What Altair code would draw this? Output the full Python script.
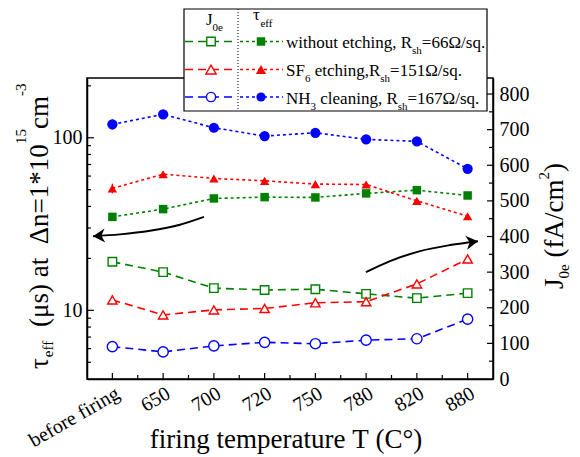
import json
import altair as alt
import pandas as pd

# ---------------- data ----------------
categories = ["before firing", "650", "700", "720", "750", "780", "820", "880"]
series = ["without etching", "SF6 etching", "NH3 cleaning"]
colors = ["#008000", "#FF0000", "#0000FF"]
shapes = ["square", "triangle-up", "circle"]
sizes = [72, 105, 85]

tau_without = [34.8, 38.6, 44.5, 45.3, 45.1, 47.6, 49.7, 46.3]
tau_sf6 = [50.9, 61.5, 58.1, 56.3, 53.9, 53.6, 43.1, 35.1]
tau_nh3 = [119.6, 136.7, 114.3, 102.3, 106.9, 97.9, 95.3, 66.1]

j0e_without = [329, 300, 255, 250, 252, 239, 227, 241]
j0e_sf6 = [222, 180, 194, 198, 214, 217, 267, 337]
j0e_nh3 = [91, 76, 93, 103, 99, 109, 113, 168]

tau_err_first = [1.5, 3.3, 8.0]
j0e_err_first = [12, 12, 5]

tau_ticks_major = [10, 100]
tau_ticks_minor = [5, 6, 7, 8, 9, 20, 30, 40, 50, 60, 70, 80, 90, 200]
j_ticks_major = [100, 200, 300, 400, 500, 600, 700, 800]
j_ticks_minor = [50, 150, 250, 350, 450, 550, 650, 750]
x_ticks_major = [0, 1, 2, 3, 4, 5, 6, 7]
x_ticks_minor = [0.5, 1.5, 2.5, 3.5, 4.5, 5.5, 6.5]

arrow_left_x = [1.805, 1.332, 0.741, 0.150, -0.382]
arrow_left_y = [455, 433, 416, 406, 401]
arrow_right_x = [4.997, 5.471, 6.062, 6.653, 7.204]
arrow_right_y = [300, 331, 359, 376, 387]

# ---------------- layout ----------------
FONT = "Liberation Serif"
OX, OY = 87, 78
W, H = 406, 301
NBSP = "\u00a0"

TW = {' ': 250, '(': 333, ')': 333, '*': 500, ',': 250, '-': 333, '.': 250, '/': 278,
      '=': 564, 'A': 722, 'C': 667, 'F': 556, 'H': 722, 'J': 389, 'N': 722, 'R': 667,
      'S': 556, 'T': 611, 'a': 444, 'b': 500, 'c': 444, 'e': 444, 'f': 333, 'g': 500,
      'h': 500, 'i': 278, 'l': 278, 'm': 778, 'n': 500, 'o': 500, 'p': 500, 'q': 500,
      'r': 333, 's': 389, 't': 278, 'u': 500, 'w': 722, 'Ω': 768, 'μ': 576, 'Δ': 612,
      'τ': 439, '°': 400}


def tw(s, size):
    return sum(TW.get(c, 500) for c in s) * size / 1000.0


one = pd.DataFrame({"a": [0]})


def txt(s, x, y, size, angle=0, align="left"):
    kw = dict(text=s.replace(" ", NBSP), fontSize=size, font=FONT, align=align,
              baseline="alphabetic", color="black")
    if angle:
        kw["angle"] = angle
    return alt.Chart(one).mark_text(**kw).encode(x=alt.value(x - OX), y=alt.value(y - OY))


def rich_h(pieces, x0, y0):
    out = []
    x = x0
    for s, size, dy in pieces:
        body = s.lstrip(" ")
        x += tw(s[:len(s) - len(body)], size)
        out.append(txt(body, x, y0 + dy, size))
        x += tw(body, size)
    return out


def rich_v(pieces, x0, y0):
    out = []
    y = y0
    for s, size, dx in pieces:
        body = s.lstrip(" ")
        y -= tw(s[:len(s) - len(body)], size)
        out.append(txt(body, x0 + dx, y, size, angle=270))
        y -= tw(body, size)
    return out


rows = []
for s, tv, jv in zip(series, [tau_without, tau_sf6, tau_nh3], [j0e_without, j0e_sf6, j0e_nh3]):
    for i, (t, j) in enumerate(zip(tv, jv)):
        rows.append({"x": i, "series": s, "tau": t, "j": j})
df = pd.DataFrame(rows)

err_df = pd.DataFrame({
    "x": [0, 0, 0],
    "series": series,
    "tau_lo": [v[0] - e for v, e in zip([tau_without, tau_sf6, tau_nh3], tau_err_first)],
    "tau_hi": [v[0] + e for v, e in zip([tau_without, tau_sf6, tau_nh3], tau_err_first)],
    "j_lo": [v[0] - e for v, e in zip([j0e_without, j0e_sf6, j0e_nh3], j0e_err_first)],
    "j_hi": [v[0] + e for v, e in zip([j0e_without, j0e_sf6, j0e_nh3], j0e_err_first)],
})

x_axis = alt.Axis(values=x_ticks_major,
                  labelExpr=json.dumps(categories) + "[round(datum.value)]",
                  labelAngle=-30, labelAlign="right", labelBaseline="top",
                  labelFontSize=20, labelPadding=4, ticks=False, grid=False, title=None)
x_enc = alt.X("x:Q", scale=alt.Scale(domain=[-0.5, 7.5], nice=False, zero=False), axis=x_axis)

tau_scale = alt.Scale(type="log", domain=[4, 222], nice=False)
left_axis = alt.Axis(orient="left", values=tau_ticks_major, format="d", ticks=False, grid=False,
                     labelFontSize=20, labelPadding=5, title=None)
j_scale = alt.Scale(domain=[0, 845], nice=False, zero=False)
right_axis = alt.Axis(orient="right", values=[0] + j_ticks_major, ticks=False, grid=False,
                      labelFontSize=20, labelPadding=6, title=None)

color_enc = alt.Color("series:N", scale=alt.Scale(domain=series, range=colors), legend=None)
shape_enc = alt.Shape("series:N", scale=alt.Scale(domain=series, range=shapes), legend=None)
size_enc = alt.Size("series:N", scale=alt.Scale(domain=series, range=sizes), legend=None)

# ---- tau (left, log) ----
y_tau = alt.Y("tau:Q", scale=tau_scale, axis=left_axis)
tau_tick_major = alt.Chart(pd.DataFrame({"tau": tau_ticks_major})).mark_rule(color="black", strokeWidth=1.2).encode(
    y=y_tau, x=alt.value(0), x2=alt.value(7))
tau_tick_minor = alt.Chart(pd.DataFrame({"tau": tau_ticks_minor})).mark_rule(color="black", strokeWidth=1.2).encode(
    y=y_tau, x=alt.value(0), x2=alt.value(4))
xt_major = alt.Chart(pd.DataFrame({"x": x_ticks_major})).mark_rule(color="black", strokeWidth=1.2).encode(
    x=x_enc, y=alt.value(H), y2=alt.value(H - 6))
xt_minor = alt.Chart(pd.DataFrame({"x": x_ticks_minor})).mark_rule(color="black", strokeWidth=1.2).encode(
    x=x_enc, y=alt.value(H), y2=alt.value(H - 4))
tau_err = alt.Chart(err_df).mark_rule(strokeWidth=1.3).encode(
    x=x_enc, y=alt.Y("tau_lo:Q", scale=tau_scale, axis=left_axis), y2="tau_hi:Q", color=color_enc)
tau_line = alt.Chart(df).mark_line(strokeDash=[3, 3], strokeWidth=1.6).encode(
    x=x_enc, y=y_tau, color=color_enc, detail="series:N")
tau_pts = alt.Chart(df).mark_point(filled=True, opacity=1).encode(
    x=x_enc, y=y_tau, color=color_enc, shape=shape_enc, size=size_enc)
tau_group = alt.layer(tau_tick_major, tau_tick_minor, xt_major, xt_minor, tau_err, tau_line, tau_pts)

# ---- J0e (right, linear) ----
y_j = alt.Y("j:Q", scale=j_scale, axis=right_axis)
j_tick_major = alt.Chart(pd.DataFrame({"j": j_ticks_major})).mark_rule(color="black", strokeWidth=1.2).encode(
    y=y_j, x=alt.value(W), x2=alt.value(W - 6))
j_tick_minor = alt.Chart(pd.DataFrame({"j": j_ticks_minor})).mark_rule(color="black", strokeWidth=1.2).encode(
    y=y_j, x=alt.value(W), x2=alt.value(W - 4))
j_err = alt.Chart(err_df).mark_rule(strokeWidth=1.3).encode(
    x=x_enc, y=alt.Y("j_lo:Q", scale=j_scale, axis=right_axis), y2="j_hi:Q", color=color_enc)
j_line = alt.Chart(df).mark_line(strokeDash=[8, 5], strokeWidth=1.6).encode(
    x=x_enc, y=y_j, color=color_enc, detail="series:N")
j_pts = alt.Chart(df).mark_point(filled=False, fill="white", fillOpacity=1, strokeWidth=1.4, opacity=1).encode(
    x=x_enc, y=y_j, color=color_enc, shape=shape_enc, size=size_enc)

arrL = pd.DataFrame({"x": arrow_left_x, "j": arrow_left_y})
arrR = pd.DataFrame({"x": arrow_right_x, "j": arrow_right_y})
arrL_line = alt.Chart(arrL).mark_line(interpolate="monotone", color="black", strokeWidth=2).encode(x=x_enc, y=y_j)
arrR_line = alt.Chart(arrR).mark_line(interpolate="monotone", color="black", strokeWidth=2).encode(x=x_enc, y=y_j)
arrL_head = alt.Chart(arrL.iloc[[-1]]).mark_point(
    shape="M0,0L1.7,-1L1.2,0L1.7,1Z", filled=True, color="black", opacity=1, size=196, angle=357
).encode(x=x_enc, y=y_j)
arrR_head = alt.Chart(arrR.iloc[[-1]]).mark_point(
    shape="M0,0L-1.7,-1L-1.2,0L-1.7,1Z", filled=True, color="black", opacity=1, size=196, angle=352
).encode(x=x_enc, y=y_j)

j_group = alt.layer(j_tick_major, j_tick_minor, arrL_line, arrR_line, arrL_head, arrR_head,
                    j_err, j_line, j_pts)

# ---- annotations: legend ----
ann = []
ann.append(alt.Chart(one).mark_rect(fill="white", stroke="black", strokeWidth=1.2).encode(
    x=alt.value(184 - OX), x2=alt.value(487 - OX), y=alt.value(9 - OY), y2=alt.value(111 - OY)))
ann.append(alt.Chart(one).mark_rule(color="black", strokeWidth=1, strokeDash=[1, 2]).encode(
    x=alt.value(238 - OX), y=alt.value(9 - OY), y2=alt.value(111 - OY)))
ann += rich_h([("J", 17, 0), ("0e", 11, 6)], 206, 25)
ann += rich_h([("τ", 17, 0), ("eff", 11, 7)], 253, 20)

row_y = [41.5, 69.5, 97]
row_text = [
    [("without etching, R", 17, 0), ("sh", 11, 6), ("=66Ω/sq.", 17, 0)],
    [("SF", 17, 0), ("6", 11, 6), (" etching,R", 17, 0), ("sh", 11, 6), ("=151Ω/sq.", 17, 0)],
    [("NH", 17, 0), ("3", 11, 6), (" cleaning, R", 17, 0), ("sh", 11, 6), ("=167Ω/sq.", 17, 0)],
]
for ry, col, shp, sz, pieces in zip(row_y, colors, shapes, sizes, row_text):
    ann.append(alt.Chart(one).mark_rule(color=col, strokeWidth=1.6, strokeDash=[8, 5]).encode(
        x=alt.value(185 - OX), x2=alt.value(236 - OX), y=alt.value(ry - OY)))
    ann.append(alt.Chart(one).mark_point(shape=shp, filled=False, fill="white", fillOpacity=1,
                                         color=col, strokeWidth=1.4, opacity=1, size=sz).encode(
        x=alt.value(211 - OX), y=alt.value(ry - OY)))
    ann.append(alt.Chart(one).mark_rule(color=col, strokeWidth=1.6, strokeDash=[3, 3]).encode(
        x=alt.value(240 - OX), x2=alt.value(283 - OX), y=alt.value(ry - OY)))
    ann.append(alt.Chart(one).mark_point(shape=shp, filled=True, color=col, opacity=1, size=sz).encode(
        x=alt.value(261 - OX), y=alt.value(ry - OY)))
    ann += rich_h(pieces, 286, ry + 6.5)

# ---- axis titles ----
ann.append(txt("firing temperature T (C°)", 286, 448, 27, align="center"))
ann += rich_v([("τ", 27, 0), ("eff", 15, 5), ("  (μs) at  Δn=1*10", 27, 0), ("15", 15, -22),
               ("cm", 27, 0), ("-3", 15, -22)], 48, 369)
ann += rich_v([("J", 27, 0), ("0e", 15, 6), (" (fA/cm", 27, 0), ("2", 15, -14), (")", 27, 0)], 563, 289)

chart = alt.layer(tau_group, j_group, *ann).resolve_scale(y="independent").properties(
    width=W, height=H,
    padding={"left": OX, "top": OY, "right": 580 - OX - W, "bottom": 457 - OY - H},
    autosize=alt.AutoSizeParams(type="none"),
).configure_view(stroke="black", strokeWidth=1.5).configure_axis(
    labelFont=FONT, labelColor="black", domainColor="black", domainWidth=1.5, grid=False
)

chart.save("out.html", embed_options={"renderer": "svg", "actions": False})
